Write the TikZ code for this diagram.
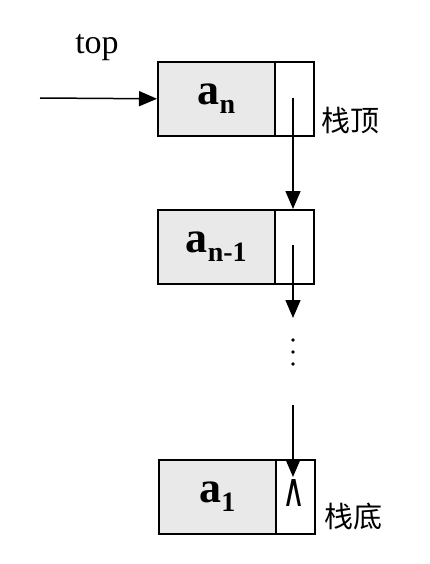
\documentclass[tikz,border=0pt]{standalone}
\usepackage{fontspec}
\usepackage{graphicx}
\setmainfont{Liberation Serif}
\newfontfamily\cjk{Noto Sans CJK SC}
\newfontfamily\symb{DejaVu Sans}
\usetikzlibrary{arrows.meta}
\newcommand{\elem}[1]{{\bfseries\fontsize{44}{44}\selectfont a\raisebox{-0.2em}{\fontsize{28}{28}\selectfont #1}}}
\begin{document}
\begin{tikzpicture}[x=1pt,y=-1pt,
  datacell/.style={draw,line width=1.6pt,fill=gray!17,minimum width=117pt,minimum height=74pt,inner sep=0pt,anchor=north west},
  ptrcell/.style={draw,line width=1.6pt,fill=white,minimum width=39pt,minimum height=74pt,inner sep=0pt,anchor=north west},
  link/.style={line width=1.5pt,-{Triangle[length=18pt,width=15pt]}},
  dot/.style={circle,fill=black,inner sep=0pt,minimum size=3.8pt},
  cjklabel/.style={font=\cjk\fontsize{29}{29}\selectfont,inner sep=0pt}
]
\useasboundingbox (0,0) rectangle (429,564);
% top node of the stack
\node[datacell] (d1) at (157,61) {\elem{n}};
\node[ptrcell] (p1) at (274,61) {};
% second node
\node[datacell] (d2) at (157,209) {\elem{n-1}};
\node[ptrcell] (p2) at (274,209) {};
% bottom node
\node[datacell] (d3) at (158,459) {\elem{1}};
\node[ptrcell] (p3) at (275,459) {};
% null pointer mark
\node[inner sep=0pt] (nil) at (294,493) {\resizebox{23pt}{27pt}{\symb\fontsize{20}{20}\selectfont ∧}};
% labels
\node[inner sep=0pt,font=\fontsize{34}{34}\selectfont] (toplbl) at (97,48) {top};
\node[cjklabel] (st) at (350,121) {栈顶};
\node[cjklabel] (sb) at (353,516) {栈底};
% ellipsis between nodes
\node[dot] (e1) at (293,340) {};
\node[dot] (e2) at (293,352) {};
\node[dot] (e3) at (293,364) {};
% connectors
\coordinate (start) at (40,98);
\coordinate (c1) at (293,98);
\coordinate (c2) at (293,245);
\coordinate (c2end) at (293,318);
\coordinate (c3) at (293,405);
\coordinate (c3end) at (293,477);
\draw[link] (start) -- (d1.west);
\draw[link] (c1) -- (c1 |- p2.north);
\draw[link] (c2) -- (c2end);
\draw[link] (c3) -- (c3end);
\end{tikzpicture}
\end{document}
